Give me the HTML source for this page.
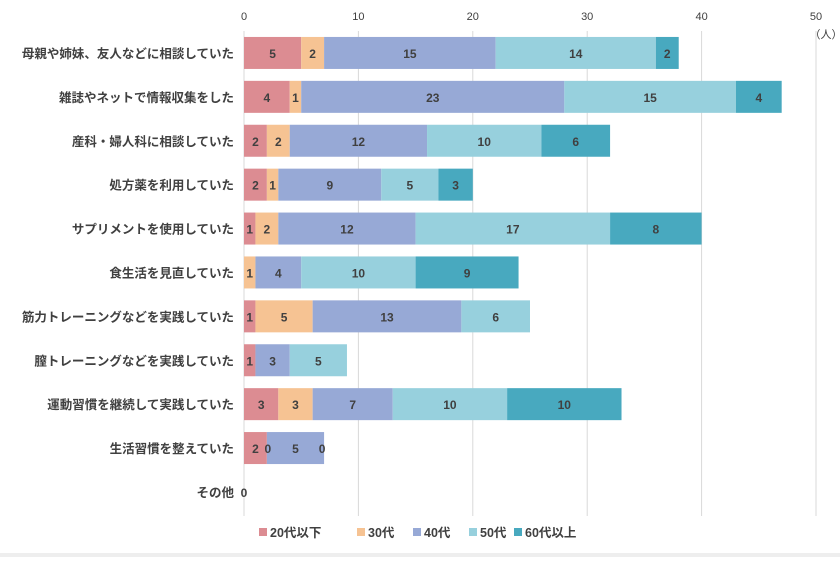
<!DOCTYPE html>
<html><head><meta charset="utf-8"><style>
body{margin:0;background:#fff;font-family:"Liberation Sans","Noto Sans CJK JP",sans-serif;}
svg text{font-family:"Liberation Sans","Noto Sans CJK JP",sans-serif;}
</style></head><body>
<svg id="c" width="840" height="557">
<rect x="0" y="553" width="840" height="4" fill="#eeeeee"/>
</svg>
<script>
const categories=["母親や姉妹、友人などに相談していた","雑誌やネットで情報収集をした","産科・婦人科に相談していた","処方薬を利用していた","サプリメントを使用していた","食生活を見直していた","筋力トレーニングなどを実践していた","膣トレーニングなどを実践していた","運動習慣を継続して実践していた","生活習慣を整えていた","その他"];
const s20=[5,4,2,2,1,0,1,1,3,2,0];
const s30=[2,1,2,1,2,1,5,0,3,0,0];
const s40=[15,23,12,9,12,4,13,3,7,5,0];
const s50=[14,15,10,5,17,10,6,5,10,0,0];
const s60=[2,4,6,3,8,9,0,0,10,0,0];
const seriesNames=["20代以下","30代","40代","50代","60代以上"];
const ticks=[0,10,20,30,40,50];
const series=[s20,s30,s40,s50,s60];
const colors=["#dc8c92","#f6c393","#97a9d6","#97d0dd","#48a9bf"];
const svg=document.getElementById('c');const NS="http://www.w3.org/2000/svg";
const x0=244,ppu=11.44,plotTop=31,rowH=43.9,barH=32;
const X=v=>x0+v*ppu;const Y=i=>plotTop+rowH*i+rowH/2;
function el(t,a,txt){const e=document.createElementNS(NS,t);for(const k in a)e.setAttribute(k,a[k]);if(txt!==undefined)e.textContent=txt;svg.appendChild(e);return e;}
ticks.forEach(t=>{
const g=el('line',{x1:X(t),x2:X(t),y1:plotTop,y2:516,stroke:'#d9d9d9','stroke-width':1});


const l=el('text',{x:X(t),y:20,'text-anchor':'middle','font-size':11,fill:'#404040'},String(t));


});
const u=el('text',{x:826,y:38,'text-anchor':'middle','font-size':11,fill:'#404040'},'（人）');


const labels=[];
categories.forEach((c,i)=>{
const t=el('text',{x:234,y:Y(i)+5,'text-anchor':'end','font-size':12.5,'font-weight':'bold',fill:'#404040'},c);


let acc=0;
series.forEach((s,k)=>{
const v=s[i];
if(v>0){const r=el('rect',{x:X(acc),y:Y(i)-barH/2,width:v*ppu,height:barH,fill:colors[k]});

}
const showZero=(i===9&&(k===1||k===3));
if(v>0||showZero){
let cx=X(acc+v/2);if(showZero)cx=X(acc)+(k===1?1:-2);
labels.push([cx,Y(i)+5,String(v)]);}
acc+=v;});
if(i===10)labels.push([X(0),Y(i)+5,'0']);
});
labels.forEach(l=>{
const lb=el('text',{x:l[0],y:l[1],'text-anchor':'middle','font-size':12,'font-weight':'bold',fill:'#404040'},l[2]);


});
const lx=[259,357,413,469,514];
seriesNames.forEach((n,k)=>{
const r=el('rect',{x:lx[k],y:528,width:8,height:8,fill:colors[k]});


const t=el('text',{x:lx[k]+11,y:537,'font-size':12.5,'font-weight':'bold',fill:'#404040'},n);


});
</script>
</body></html>
